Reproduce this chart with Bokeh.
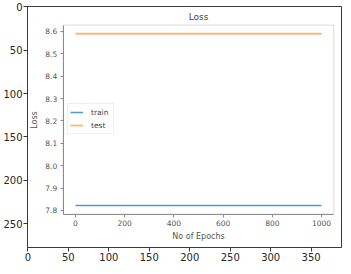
from bokeh.plotting import figure
from bokeh.models import (Range1d, LinearAxis, FixedTicker, PrintfTickFormatter,
                          BoxAnnotation, Label, Legend, LegendItem, ColumnDataSource)
from bokeh.embed import file_html
from bokeh.resources import INLINE

# ---- data ----
outer_x_ticks = [0, 50, 100, 150, 200, 250, 300, 350]
outer_y_ticks = [0, 50, 100, 150, 200, 250]
image_w = 388
image_h = 278

epochs = [0, 250, 500, 750, 1000]
train_loss = [7.822, 7.822, 7.822, 7.822, 7.822]
test_loss = [8.59, 8.59, 8.59, 8.59, 8.59]
inner_x_ticks = [0, 200, 400, 600, 800, 1000]
inner_y_ticks = [7.8, 7.9, 8.0, 8.1, 8.2, 8.3, 8.4, 8.5, 8.6]
title_text = "Loss"
x_label = "No of Epochs"
y_label = "Loss"
series_names = ["train", "test"]

# inner axes box (matplotlib default 5% margins)
ix0, ix1 = -50, 1050
iy0, iy1 = 7.7836, 8.6284

p = figure(width=351, height=274, output_backend="svg", toolbar_location=None,
           x_range=Range1d(-0.5, image_w - 0.5), y_range=Range1d(image_h - 0.5, -0.5),
           min_border_left=27, min_border_right=10, min_border_top=6, min_border_bottom=27,
           x_axis_location=None, y_axis_location=None)
p.grid.visible = False
p.outline_line_color = "#3a3a3a"
p.outline_line_width = 1
p.background_fill_color = "white"
p.border_fill_color = "white"

# outer axes (the image axes)
ox = LinearAxis(ticker=FixedTicker(ticks=outer_x_ticks))
oy = LinearAxis(ticker=FixedTicker(ticks=outer_y_ticks))
for ax in (ox, oy):
    ax.major_label_text_font = "DejaVu Sans"
    ax.major_label_text_font_size = "10px"
    ax.major_label_text_color = "#262626"
    ax.axis_line_color = "#3a3a3a"
    ax.major_tick_line_color = "#3a3a3a"
    ax.major_tick_out = 4
    ax.major_tick_in = 0
    ax.minor_tick_line_color = None
    ax.major_label_standoff = 1
p.add_layout(ox, "below")
p.add_layout(oy, "left")

# inner ranges mapped across the outer frame
p.extra_x_ranges = {"ix": Range1d(-195.0, 1081.0)}
p.extra_y_ranges = {"iy": Range1d(7.6346, 8.7117)}

# inner axes box
p.add_layout(BoxAnnotation(left=ix0, right=ix1, bottom=iy0, top=iy1,
                           x_range_name="ix", y_range_name="iy", level="underlay",
                           fill_color="white", fill_alpha=1.0,
                           line_color="#8c8c8c", line_width=1))

src = ColumnDataSource(dict(epochs=epochs, train=train_loss, test=test_loss))
r_train = p.line("epochs", "train", source=src, x_range_name="ix", y_range_name="iy",
                 line_color="#4f9bd1", line_width=1.5)
r_test = p.line("epochs", "test", source=src, x_range_name="ix", y_range_name="iy",
                line_color="#f5b87a", line_width=1.8)

# inner axes
ixa = LinearAxis(x_range_name="ix", y_range_name="iy", ticker=FixedTicker(ticks=inner_x_ticks),
                 axis_label=x_label, bounds=(ix0, ix1))
ixa.fixed_location = iy0
iya = LinearAxis(x_range_name="ix", y_range_name="iy", ticker=FixedTicker(ticks=inner_y_ticks),
                 axis_label=y_label, bounds=(iy0, iy1),
                 formatter=PrintfTickFormatter(format="%.1f"))
iya.fixed_location = ix0
for ax in (ixa, iya):
    ax.major_label_text_font = "DejaVu Sans"
    ax.major_label_text_font_size = "7.5px"
    ax.major_label_text_color = "#555555"
    ax.axis_label_text_font = "DejaVu Sans"
    ax.axis_label_text_font_size = "8px"
    ax.axis_label_text_font_style = "normal"
    ax.axis_label_text_color = "#555555"
    ax.axis_line_color = "#8c8c8c"
    ax.major_tick_line_color = "#8c8c8c"
    ax.major_tick_out = 3
    ax.major_tick_in = 0
    ax.minor_tick_line_color = None
    ax.major_label_standoff = 3
ixa.axis_label_standoff = 2
iya.axis_label_standoff = 4
p.add_layout(ixa, "below")
p.add_layout(iya, "left")

# inner title
p.add_layout(Label(x=(ix0 + ix1) / 2, y=8.6626, x_range_name="ix", y_range_name="iy",
                   text=title_text, text_align="center", text_baseline="middle",
                   text_font="DejaVu Sans", text_font_size="9px", text_color="#444444"))

legend = Legend(items=[LegendItem(label=series_names[0], renderers=[r_train]),
                       LegendItem(label=series_names[1], renderers=[r_test])],
                location=(40, 113))
legend.label_text_font = "DejaVu Sans"
legend.label_text_font_size = "7.5px"
legend.label_text_color = "#444444"
legend.glyph_width = 13
legend.glyph_height = 12
legend.label_height = 12
legend.label_standoff = 8
legend.spacing = 1
legend.padding = 2
legend.margin = 0
legend.border_line_color = "#dddddd"
legend.background_fill_alpha = 0.9
p.add_layout(legend)

open("out.html", "w").write(file_html(p, INLINE))
